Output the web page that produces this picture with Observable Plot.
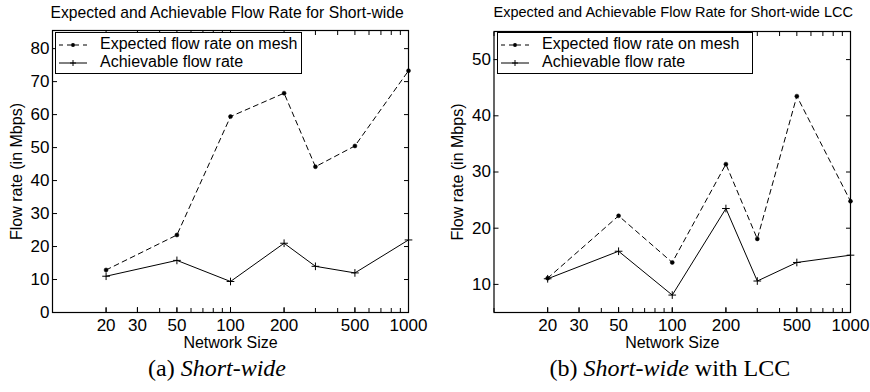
<!DOCTYPE html>
<html><head><meta charset="utf-8">
<script src="https://cdn.jsdelivr.net/npm/d3@7"></script>
<script src="https://cdn.jsdelivr.net/npm/@observablehq/plot@0.6"></script>
<style>
body{margin:0;background:#fff;font-family:"Liberation Sans",Arial,sans-serif;color:#000;}
#wrap{position:relative;width:870px;height:392px;overflow:hidden;}
.panel{position:absolute;top:0;width:435px;height:392px;}
.panel svg{position:absolute;left:0;top:0;}
.title{position:absolute;top:4px;white-space:nowrap;}
.legend{position:absolute;border:1px solid #000;background:#fff;font-size:16px;box-sizing:border-box;}
.legend .row{position:absolute;left:0;white-space:nowrap;line-height:18px;}
.legend svg{position:relative;vertical-align:middle;}
.caption{position:absolute;top:355px;white-space:nowrap;font-family:"Liberation Serif","Times New Roman",serif;font-size:24px;}
</style>
</head><body>
<div id="wrap"></div>
<script>
const networkSizes = [20, 50, 100, 200, 300, 500, 1000];
const expectedA = [12.9, 23.5, 59.4, 66.5, 44.2, 50.5, 73.3];
const achievableA = [11.0, 15.8, 9.4, 21.0, 14.0, 12.0, 22.0];
const expectedB = [11.1, 22.2, 13.9, 31.4, 18.1, 43.5, 24.8];
const achievableB = [11.0, 15.9, 8.1, 23.5, 10.6, 13.9, 15.2];
const xTickLabels = [20, 30, 50, 100, 200, 500, 1000];
const yTicksA = [0, 10, 20, 30, 40, 50, 60, 70, 80];
const yTicksB = [10, 20, 30, 40, 50];
const titles = ["Expected and Achievable Flow Rate for Short-wide", "Expected and Achievable Flow Rate for Short-wide LCC"];
const seriesNames = ["Expected flow rate on mesh", "Achievable flow rate"];
const xLabel = "Network Size";
const yLabel = "Flow rate (in Mbps)";

const minorX = d3.scaleLog().domain([10, 1000]).ticks();

function makePanel({expected, achievable, yDomain, yTicks, marginLeft, marginRight, marginTop}) {
  const rows = networkSizes.map((n, i) => ({n, expected: expected[i], achievable: achievable[i]}));
  return Plot.plot({
    width: 435, height: 352,
    marginTop, marginBottom: 40, marginLeft, marginRight,
    style: {fontFamily: '"Liberation Sans", Arial, sans-serif', fontSize: "17px", color: "#000", background: "transparent", overflow: "visible"},
    x: {type: "log", domain: [10, 1000]},
    y: {domain: yDomain},
    marks: [
      Plot.axisX({ticks: minorX, tickSize: -4, tickFormat: () => "", label: null}),
      Plot.axisX({anchor: "top", ticks: minorX, tickSize: -4, tickFormat: () => "", label: null}),
      Plot.axisX({ticks: xTickLabels, tickSize: -5, tickPadding: 11, tickFormat: d => String(d), label: null}),
      Plot.axisX({ticks: [], tickSize: 0, fontSize: 16, label: xLabel, labelAnchor: "center", labelArrow: "none", labelOffset: 35}),
      Plot.axisY({ticks: yTicks, tickSize: -5, tickPadding: 8, tickFormat: d => String(d), label: null}),
      Plot.axisY({ticks: [], tickSize: 0, fontSize: 16, label: yLabel, labelAnchor: "center", labelArrow: "none", labelOffset: 42}),
      Plot.axisY({anchor: "right", ticks: yTicks, tickSize: -5, tickFormat: () => "", label: null}),
      Plot.frame({stroke: "#000", strokeWidth: 1.2}),
      Plot.lineY(rows, {x: "n", y: "expected", stroke: "#000", strokeWidth: 1, strokeDasharray: "5,4"}),
      Plot.dot(rows, {x: "n", y: "expected", r: 2, fill: "#000", stroke: "#000", strokeWidth: 0.5}),
      Plot.lineY(rows, {x: "n", y: "achievable", stroke: "#000", strokeWidth: 1}),
      Plot.dot(rows, {x: "n", y: "achievable", symbol: "plus", r: 2.6, stroke: "#000", strokeWidth: 1})
    ]
  });
}

function legendSample(dashed) {
  const w = 30;
  return `<svg width="${w}" height="10"><line x1="1" x2="${w-1}" y1="5" y2="5" stroke="#000" stroke-width="1" ${dashed ? 'stroke-dasharray="4,4"' : ''}/>` +
    (dashed ? `<circle cx="${w/2}" cy="5" r="2" fill="#000"/>` : `<path d="M${w/2-3},5h6M${w/2},2v6" stroke="#000" stroke-width="1"/>`) + `</svg>`;
}

const wrap = document.getElementById("wrap");
const panels = [
  {left: 0, expected: expectedA, achievable: achievableA, yDomain: [0, 85.5], yTicks: yTicksA, marginLeft: 52, marginRight: 27, marginTop: 30,
   titleCenter: 227, titleSize: 15.7, legend: {x: 55, y: 32, w: 247, h: 42}, caption: ["(a) ", "<i>Short-wide</i>", ""], captionCenter: 217},
  {left: 435, expected: expectedB, achievable: achievableB, yDomain: [5, 55], yTicks: yTicksB, marginLeft: 58.5, marginRight: 20, marginTop: 31,
   titleCenter: 238, titleSize: 14.5, legend: {x: 62, y: 32, w: 256, h: 42}, caption: ["(b) ", "<i>Short-wide</i>", " with LCC"], captionCenter: 235}
];
panels.forEach((p, k) => {
  const div = document.createElement("div");
  div.className = "panel";
  div.style.left = p.left + "px";
  wrap.appendChild(div);
  div.appendChild(makePanel(p));
  const t = document.createElement("div");
  t.className = "title";
  t.style.fontSize = p.titleSize + "px";
  t.textContent = titles[k];
  div.appendChild(t);
  t.style.left = (p.titleCenter - t.offsetWidth / 2) + "px";
  const lg = document.createElement("div");
  lg.className = "legend";
  Object.assign(lg.style, {left: p.legend.x + "px", top: p.legend.y + "px", width: p.legend.w + "px", height: p.legend.h + "px"});
  lg.innerHTML = `<div class="row" style="top:2px;left:2px">${legendSample(true)}<span style="margin-left:12px">${seriesNames[0]}</span></div>` +
                 `<div class="row" style="top:20px;left:2px">${legendSample(false)}<span style="margin-left:12px">${seriesNames[1]}</span></div>`;
  div.appendChild(lg);
  const c = document.createElement("div");
  c.className = "caption";
  c.innerHTML = p.caption.join("");
  div.appendChild(c);
  c.style.left = (p.captionCenter - c.offsetWidth / 2) + "px";
});
</script>
</body></html>
